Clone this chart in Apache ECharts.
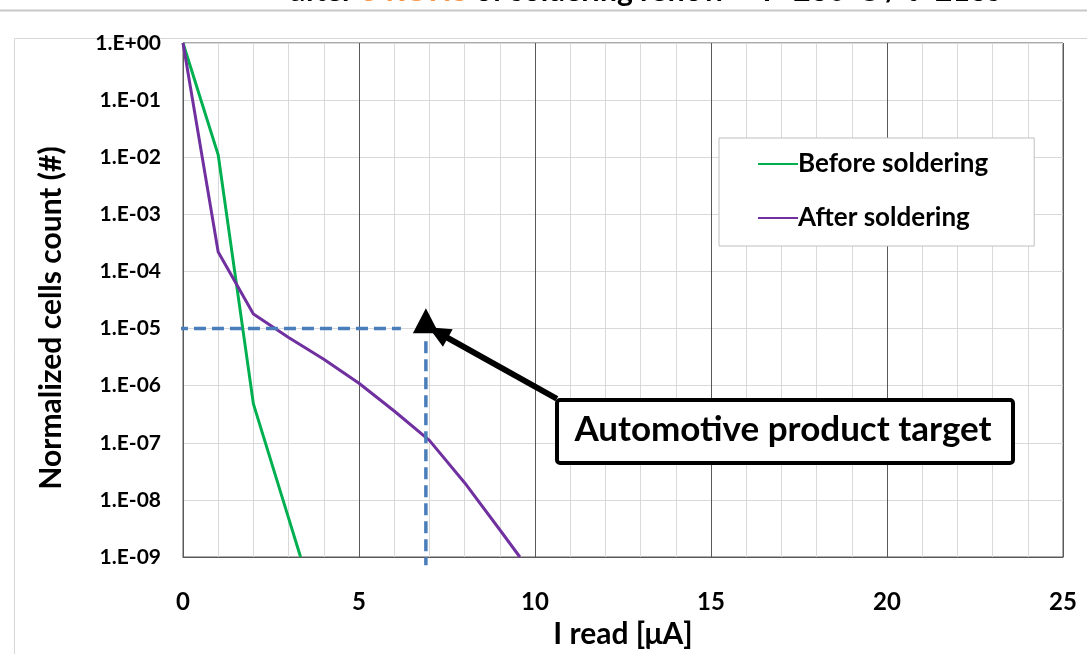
<!DOCTYPE html>
<html>
<head>
<meta charset="utf-8">
<script src="https://cdn.jsdelivr.net/npm/echarts@6/dist/echarts.min.js"></script>
<style>
html,body{margin:0;padding:0;background:#fff;}
#c{width:1087px;height:654px;}
</style>
</head>
<body>
<div id="c"></div>
<script>
// ---- data ----
var beforeX = [0, 1, 2, 3, 3.34];
var beforeY = [1, 1.1e-2, 4.8e-7, 4.8e-9, 1e-9];
var afterX = [0, 1, 2, 3, 4, 5, 6, 7, 8, 9, 9.57];
var afterY = [1, 2.2e-4, 1.8e-5, 7e-6, 2.9e-6, 1.1e-6, 3.6e-7, 1.1e-7, 2e-8, 3e-9, 1e-9];
var seriesNames = ['Before soldering', 'After soldering'];
var xTicks = [0, 5, 10, 15, 20, 25];
var targetX = 6.9;
var targetY = 1e-5;
var hGuideX = [-0.2, 6.19];
var vGuideY = [6e-6, 7.2e-10];
var markerY = 1.37e-5;
var arrowFrom = [10.62, 5.9e-7];
var arrowTo = [7.25, 8.5e-6];
var boxText = 'Automotive product target';
var xName = 'I read [\u03bcA]';
var yName = 'Normalized cells count (#)';

function pairs(xs, ys){ return xs.map(function(x,i){ return [x, ys[i]]; }); }
function fmtExp(v){
  var e = Math.round(Math.log10(v));
  var s = e < 0 ? '-' : '+';
  var a = Math.abs(e);
  return '1.E' + s + (a < 10 ? '0' + a : '' + a);
}

var FONT = 'Lato';
var chart = echarts.init(document.getElementById('c'), null, {renderer:'canvas'});
var option = {
  animation: false,
  backgroundColor: '#ffffff',
  textStyle: {fontFamily: FONT},
  grid: {left: 183, top: 43, right: 24, bottom: 96, show: true, borderColor: '#595959', borderWidth: 1, backgroundColor: 'transparent'},
  legend: {
    data: seriesNames,
    orient: 'vertical',
    left: 719, top: 138,
    padding: [11, 46, 13, 39],
    itemGap: 24,
    itemWidth: 40, itemHeight: 2,
    icon: 'rect',
    borderColor: '#bfbfbf', borderWidth: 1,
    backgroundColor: '#ffffff',
    textStyle: {fontFamily: FONT, fontWeight: 'bold', fontSize: 26, color: '#000', lineHeight: 30, padding: [0,0,0,-5]}
  },
  xAxis: {
    type: 'value', min: 0, max: 25, interval: 5,
    name: xName, nameLocation: 'middle', nameGap: 62,
    nameTextStyle: {fontFamily: FONT, fontWeight: 'bold', fontSize: 30, color: '#000'},
    axisLine: {show: true, lineStyle: {color: '#595959', width: 1}},
    axisTick: {show: false},
    axisLabel: {margin: 33, fontFamily: FONT, fontWeight: 'bold', fontSize: 24, color: '#000',
      formatter: function(v){ return xTicks.indexOf(v) >= 0 ? String(v) : ''; }},
    splitLine: {show: true, lineStyle: {color: '#595959', width: 1}},
    minorTick: {show: false, splitNumber: 5},
    minorSplitLine: {show: true, lineStyle: {color: '#d9d9d9', width: 1}}
  },
  yAxis: {
    type: 'log', logBase: 10, min: 1e-9, max: 1, interval: 1,
    name: yName, nameLocation: 'middle', nameGap: 117, nameRotate: 90,
    nameTextStyle: {fontFamily: FONT, fontWeight: 'bold', fontSize: 30, color: '#000', padding: [0, 36, 0, 0]},
    axisLine: {show: true, lineStyle: {color: '#595959', width: 1}},
    axisTick: {show: false},
    axisLabel: {margin: 22, fontFamily: FONT, fontWeight: 'bold', fontSize: 21, color: '#000', formatter: fmtExp},
    splitLine: {show: true, lineStyle: {color: '#d9d9d9', width: 1}},
    minorSplitLine: {show: false}
  },
  series: [
    {name: seriesNames[0], type: 'line', data: pairs(beforeX, beforeY), symbol: 'none', smooth: false,
     lineStyle: {color: '#00B050', width: 3}, itemStyle: {color: '#00B050'}, z: 5},
    {name: seriesNames[1], type: 'line', data: pairs(afterX, afterY), symbol: 'none', smooth: false,
     lineStyle: {color: '#7030A0', width: 3}, itemStyle: {color: '#7030A0'}, z: 5},
    {name: 'hguide', type: 'line', data: [[hGuideX[0], targetY], [hGuideX[1], targetY]], symbol: 'none', clip: false,
     lineStyle: {color: '#4a7ebb', width: 3.5, type: [12, 6]}, z: 6, silent: true},
    {name: 'vguide', type: 'line', data: [[targetX, vGuideY[0]], [targetX, vGuideY[1]]], symbol: 'none', clip: false,
     lineStyle: {color: '#4a7ebb', width: 3.5, type: [12, 6]}, z: 6, silent: true},
    {name: 'marker', type: 'scatter', data: [[targetX, markerY]], symbol: 'triangle', symbolSize: [26, 25],
     itemStyle: {color: '#000', opacity: 1}, z: 7, silent: true},
    {name: 'arrow', type: 'line', data: [], z: 8, silent: true,
     markLine: {silent: true, symbol: ['none', 'triangle'], symbolSize: [20, 22],
       label: {show: false}, lineStyle: {color: '#000', width: 6, type: 'solid'},
       data: [[{coord: arrowFrom}, {coord: arrowTo}]]}}
  ],
  graphic: [
    {type: 'rect', left: 12, top: 36, shape: {width: 1100, height: 700}, style: {fill: 'none', stroke: '#d6d6d6', lineWidth: 1}, z: -10, silent: true},
    {type: 'text', left: 290, top: -24, z: 20,
     style: {text: '{a|after }{b|3 ROHS}{a| of soldering reflow \u2013 T=260\u00b0C / t=216s}',
       rich: {a: {fontFamily: FONT, fontWeight: 'bold', fontSize: 30, fill: '#000'},
              b: {fontFamily: FONT, fontWeight: 'bold', fontSize: 30, fill: '#F79646'}}}},
    {type: 'line', shape: {x1: 0, y1: 10.5, x2: 1087, y2: 10.5}, style: {stroke: '#c8c8c8', lineWidth: 2}, z: 21},
    {type: 'rect', left: 555, top: 398, z: 30, shape: {width: 456, height: 63, r: 3},
     style: {fill: '#fff', stroke: '#000', lineWidth: 4}},
    {type: 'text', position: [783, 430], z: 31,
     style: {text: boxText, x: 0, y: 0, align: 'center', verticalAlign: 'middle',
       fontFamily: FONT, fontWeight: 'bold', fontSize: 35, fill: '#000'}}
  ]
};
chart.setOption(option);
</script>
</body>
</html>
